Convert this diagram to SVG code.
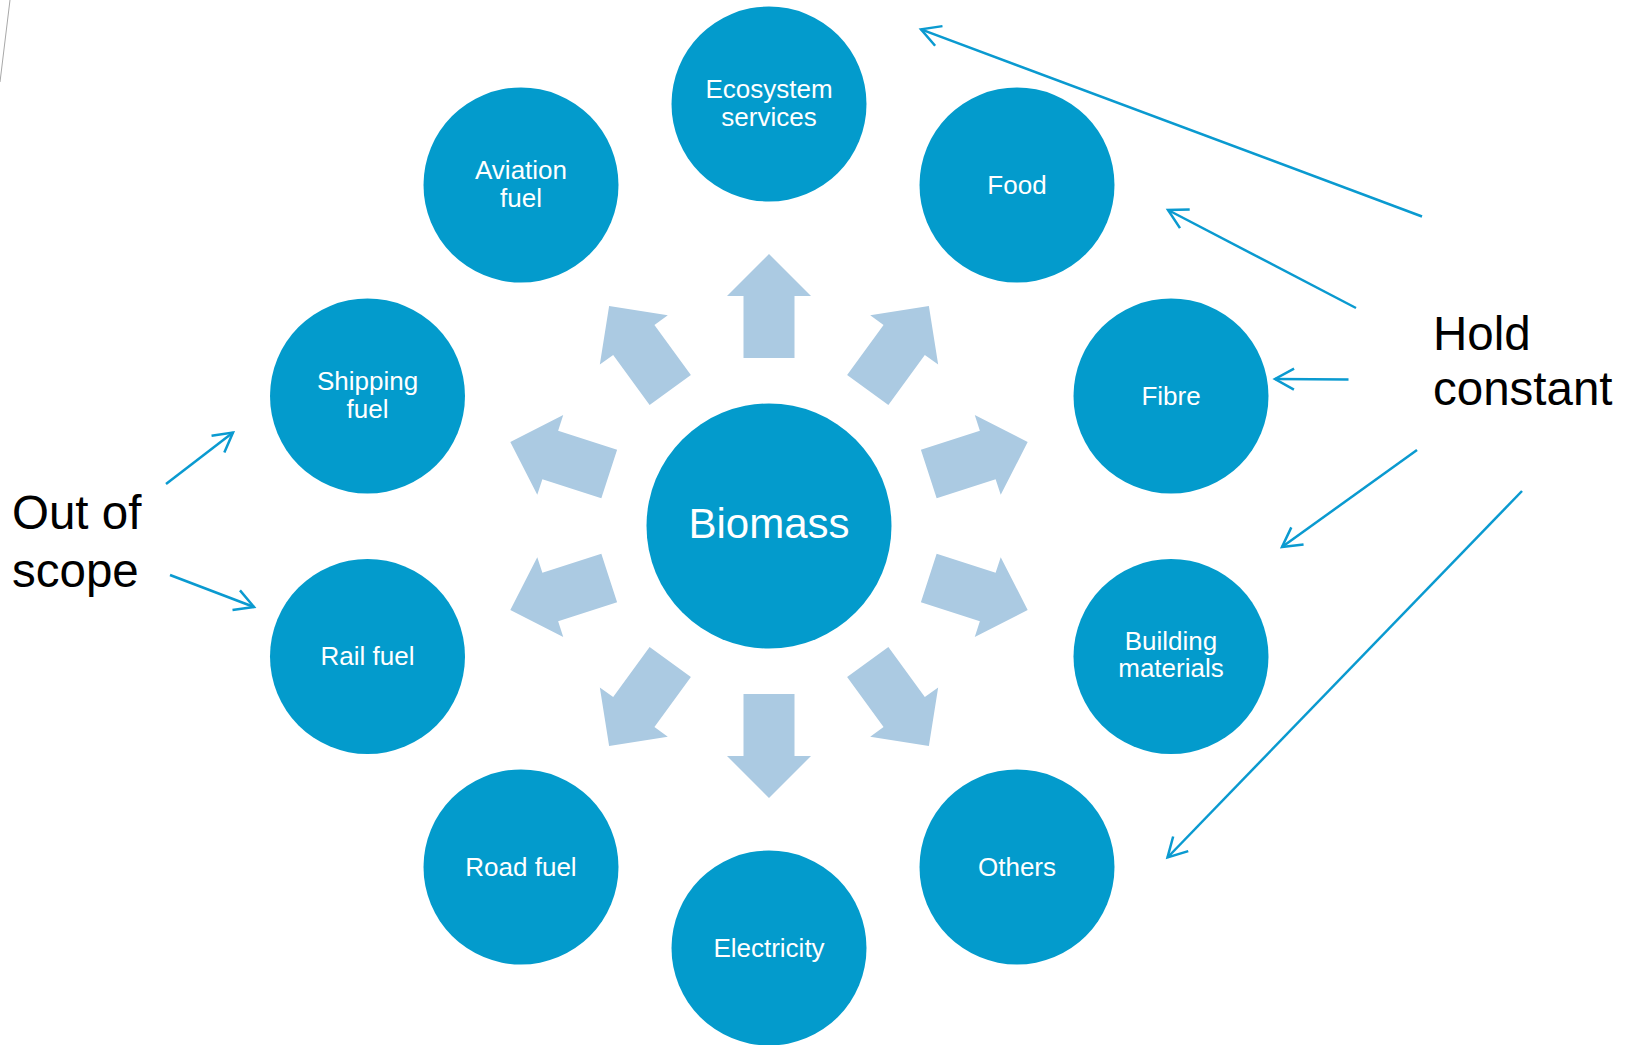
<svg xmlns="http://www.w3.org/2000/svg" width="1628" height="1045" viewBox="0 0 1628 1045">
  <style>
    .node { fill: #039BCC; }
    .lbl { fill: #FFFFFF; font-family: "Liberation Sans", Arial, sans-serif; font-size: 26px; text-anchor: middle; }
    .big { fill: #FFFFFF; font-family: "Liberation Sans", Arial, sans-serif; font-size: 42px; text-anchor: middle; }
    .note { fill: #000000; font-family: "Liberation Sans", Arial, sans-serif; font-size: 47.5px; }
    .flow { fill: #ABCAE2; }
    .conn { stroke: #0A9AD0; stroke-width: 2.5; fill: none; }
  </style>
  <defs>
    <path id="blockArrow" d="M -25.5 -168 L -25.5 -230 L -42 -230 L 0 -272 L 42 -230 L 25.5 -230 L 25.5 -168 Z"/>
    <marker id="openHead" viewBox="0 0 26 26" refX="23" refY="13" markerWidth="26" markerHeight="26" markerUnits="userSpaceOnUse" orient="auto">
      <path d="M 4 2.5 L 23 13 L 4 23.5" fill="none" stroke="#0A9AD0" stroke-width="2.5"/>
    </marker>
  </defs>

  <rect width="1628" height="1045" fill="#FFFFFF"/>
  <line x1="10" y1="0" x2="0" y2="82" stroke="#A8A8A8" stroke-width="1"/>

  <g id="flow-arrows" class="flow">
    <use href="#blockArrow" transform="translate(769,526) rotate(0)"/>
    <use href="#blockArrow" transform="translate(769,526) rotate(36)"/>
    <use href="#blockArrow" transform="translate(769,526) rotate(72)"/>
    <use href="#blockArrow" transform="translate(769,526) rotate(108)"/>
    <use href="#blockArrow" transform="translate(769,526) rotate(144)"/>
    <use href="#blockArrow" transform="translate(769,526) rotate(180)"/>
    <use href="#blockArrow" transform="translate(769,526) rotate(216)"/>
    <use href="#blockArrow" transform="translate(769,526) rotate(252)"/>
    <use href="#blockArrow" transform="translate(769,526) rotate(288)"/>
    <use href="#blockArrow" transform="translate(769,526) rotate(324)"/>
  </g>

  <g id="node-biomass">
    <circle class="node" cx="769" cy="526" r="122.5"/>
    <text class="big" x="769" y="538">Biomass</text>
  </g>
  <g id="node-ecosystem">
    <circle class="node" cx="769" cy="104" r="97.5"/>
    <text class="lbl" x="769" y="98">Ecosystem</text>
    <text class="lbl" x="769" y="126">services</text>
  </g>
  <g id="node-food">
    <circle class="node" cx="1017" cy="185" r="97.5"/>
    <text class="lbl" x="1017" y="194">Food</text>
  </g>
  <g id="node-fibre">
    <circle class="node" cx="1171" cy="396" r="97.5"/>
    <text class="lbl" x="1171" y="405">Fibre</text>
  </g>
  <g id="node-building">
    <circle class="node" cx="1171" cy="656.5" r="97.5"/>
    <text class="lbl" x="1171" y="650">Building</text>
    <text class="lbl" x="1171" y="677">materials</text>
  </g>
  <g id="node-others">
    <circle class="node" cx="1017" cy="867" r="97.5"/>
    <text class="lbl" x="1017" y="876">Others</text>
  </g>
  <g id="node-electricity">
    <circle class="node" cx="769" cy="948" r="97.5"/>
    <text class="lbl" x="769" y="957">Electricity</text>
  </g>
  <g id="node-road">
    <circle class="node" cx="521" cy="867" r="97.5"/>
    <text class="lbl" x="521" y="876">Road fuel</text>
  </g>
  <g id="node-rail">
    <circle class="node" cx="367.5" cy="656.5" r="97.5"/>
    <text class="lbl" x="367.5" y="665">Rail fuel</text>
  </g>
  <g id="node-shipping">
    <circle class="node" cx="367.5" cy="396" r="97.5"/>
    <text class="lbl" x="367.5" y="390">Shipping</text>
    <text class="lbl" x="367.5" y="418">fuel</text>
  </g>
  <g id="node-aviation">
    <circle class="node" cx="521" cy="185" r="97.5"/>
    <text class="lbl" x="521" y="179">Aviation</text>
    <text class="lbl" x="521" y="207">fuel</text>
  </g>

  <g id="label-out-of-scope">
    <text class="note" x="12" y="529">Out of</text>
    <text class="note" x="12" y="587">scope</text>
  </g>
  <g id="label-hold-constant">
    <text class="note" x="1433" y="350">Hold</text>
    <text class="note" x="1433" y="405">constant</text>
  </g>

  <g id="connectors">
    <line class="conn" x1="1422" y1="216.5" x2="921" y2="29.3" marker-end="url(#openHead)"/>
    <line class="conn" x1="1356" y1="308" x2="1168" y2="210" marker-end="url(#openHead)"/>
    <line class="conn" x1="1348.5" y1="379.5" x2="1275" y2="379" marker-end="url(#openHead)"/>
    <line class="conn" x1="1417" y1="450" x2="1282" y2="547" marker-end="url(#openHead)"/>
    <line class="conn" x1="1522" y1="491" x2="1167.5" y2="857.5" marker-end="url(#openHead)"/>
    <line class="conn" x1="166" y1="484" x2="233" y2="432.5" marker-end="url(#openHead)"/>
    <line class="conn" x1="170" y1="575" x2="254" y2="607" marker-end="url(#openHead)"/>
  </g>
</svg>
